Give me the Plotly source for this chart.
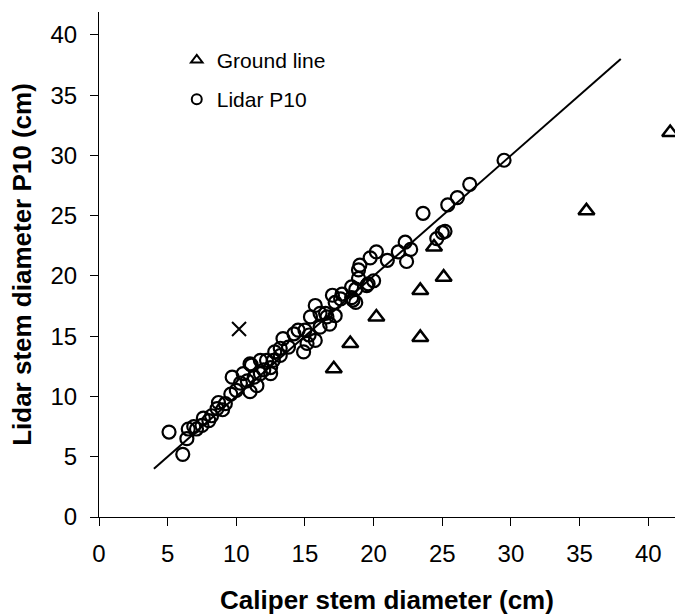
import plotly.graph_objects as go

# Ground line measurements (caliper vs ground-line estimate)
ground_x = [17.1, 18.3, 20.2, 23.4, 23.4, 25.1, 24.4, 35.5, 41.6]
ground_y = [12.3, 14.4, 16.6, 14.9, 18.8, 19.9, 22.4, 25.4, 31.9]

# Lidar P10 measurements
lidar_x = [5.1, 6.1, 6.4, 6.5, 6.9, 7.1, 7.5, 7.6, 8.0, 8.2, 8.6, 8.7, 9.0, 9.2,
           9.6, 9.7, 10.0, 10.3, 10.5, 10.8, 11.0, 11.1, 11.3, 11.5, 11.75, 11.0,
           11.75, 12.0, 12.2, 12.5, 12.5, 12.7, 12.8, 13.2, 13.2, 13.4, 13.8, 14.2,
           14.5, 14.9, 15.0, 15.15, 15.3, 15.4, 15.75, 15.75, 16.1, 16.1, 16.5, 16.6,
           16.8, 17.0, 17.2, 17.2, 17.6, 17.7, 18.4, 18.5, 18.4, 18.7, 18.7, 18.9,
           18.9, 19.0, 19.5, 19.6, 19.75, 20.0, 20.2, 21.0, 21.8, 22.3, 22.4, 22.7,
           23.6, 24.6, 25.0, 25.2, 25.4, 26.1, 27.0, 29.5]
lidar_y = [7.05, 5.2, 6.5, 7.3, 7.5, 7.3, 7.6, 8.2, 8.0, 8.4, 9.0, 9.5, 8.9, 9.4,
           10.2, 11.6, 10.5, 11.1, 11.9, 11.3, 10.4, 12.6, 11.6, 10.9, 11.9, 12.7,
           13.0, 12.2, 13.0, 11.9, 12.4, 13.0, 13.7, 14.0, 13.4, 14.8, 14.1, 15.2,
           15.5, 13.7, 15.5, 14.4, 15.1, 16.6, 14.65, 17.55, 16.9, 15.75, 16.9, 16.6,
           16.0, 18.4, 16.7, 17.8, 18.1, 18.5, 19.1, 18.0, 18.2, 18.9, 17.8, 19.8,
           20.5, 20.9, 19.2, 19.35, 21.5, 19.6, 22.0, 21.3, 22.0, 22.8, 21.2, 22.2,
           25.2, 23.1, 23.6, 23.7, 25.9, 26.5, 27.6, 29.6]

# Excluded point
outlier_x = [10.2]
outlier_y = [15.6]

# 1:1 line
line_x = [4, 38]
line_y = [4, 38]

x_ticks = [0, 5, 10, 15, 20, 25, 30, 35, 40]
y_ticks = [0, 5, 10, 15, 20, 25, 30, 35, 40]

FONT = "Liberation Sans, Arial, sans-serif"

fig = go.Figure()
fig.add_trace(go.Scatter(x=line_x, y=line_y, mode="lines",
                         line=dict(color="black", width=2), showlegend=False,
                         hoverinfo="skip"))
fig.add_trace(go.Scatter(x=lidar_x, y=lidar_y, mode="markers", showlegend=False,
                         marker=dict(symbol="circle-open", size=13, color="black",
                                     line=dict(color="black", width=2.2))))
fig.add_trace(go.Scatter(x=ground_x, y=ground_y, mode="markers", showlegend=False,
                         cliponaxis=False,
                         marker=dict(symbol="triangle-up-open", size=14, color="black",
                                     line=dict(color="black", width=2.5))))
fig.add_trace(go.Scatter(x=outlier_x, y=outlier_y, mode="markers", showlegend=False,
                         marker=dict(symbol="x-thin-open", size=14, color="black",
                                     line=dict(color="black", width=2))))
# legend entries
fig.add_trace(go.Scatter(x=[None], y=[None], mode="markers", name="Ground line",
                         legendgroup="g",
                         marker=dict(symbol="triangle-up-open", size=10, color="black",
                                     line=dict(color="black", width=2))))
fig.add_trace(go.Scatter(x=[None], y=[None], mode="markers", name="Lidar P10",
                         legendgroup="l",
                         marker=dict(symbol="circle-open", size=10, color="black",
                                     line=dict(color="black", width=2))))

axis_common = dict(showline=True, linecolor="black", linewidth=1, ticks="outside",
                   ticklen=8, tickcolor="black", tickwidth=1, showgrid=False,
                   zeroline=False, tickfont=dict(family=FONT, size=24, color="black"),
                   title_font=dict(family=FONT, size=26, color="black"))

fig.update_layout(
    width=675, height=615,
    margin=dict(l=99, r=0, t=12, b=98),
    plot_bgcolor="white", paper_bgcolor="white",
    xaxis=dict(range=[0, 41.95], tickvals=x_ticks, ticklabelstandoff=7,
               title=dict(text="<b>Caliper stem diameter (cm)</b>", standoff=26),
               **axis_common),
    yaxis=dict(range=[0, 41.9], tickvals=y_ticks, ticklabelstandoff=8,
               title=dict(text="<b>Lidar stem diameter P10 (cm)</b>", standoff=11),
               **axis_common),
    legend=dict(x=0.135, y=0.945, xanchor="left", yanchor="top",
                font=dict(family=FONT, size=21, color="black"),
                bgcolor="rgba(0,0,0,0)", traceorder="grouped", tracegroupgap=9),
    showlegend=True,
)

fig.write_html("out.html")
